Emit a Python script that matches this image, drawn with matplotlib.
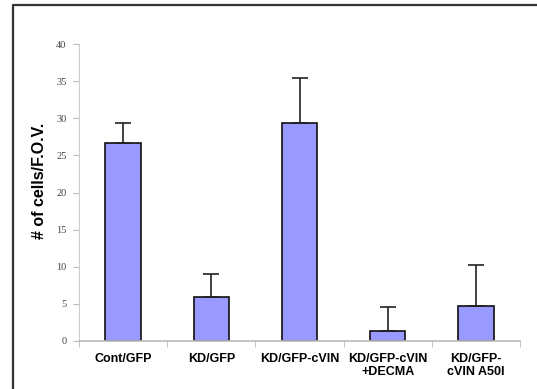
import matplotlib.pyplot as plt
from matplotlib.lines import Line2D
import numpy as np

groups = ['Cont/GFP', 'KD/GFP', 'KD/GFP-cVIN', 'KD/GFP-cVIN\n+DECMA', 'KD/GFP-\ncVIN A50I']
cells = [26.7, 5.9, 29.4, 1.3, 4.7]
err = [2.7, 3.1, 6.0, 3.3, 5.6]

fig = plt.figure(figsize=(5.37, 3.89), dpi=100)
ax = fig.add_axes([79 / 537, 1 - 341 / 389, 441 / 537, 297 / 389])

x = np.arange(len(groups))
ax.bar(x, cells, width=0.4, color='#9999ff', edgecolor='#111111', linewidth=1.2, zorder=2)
ax.errorbar(x, cells, yerr=[np.zeros(len(err)), err], fmt='none', ecolor='#222222',
            elinewidth=1.2, capsize=6, capthick=1.2, zorder=3)

ax.set_xlim(-0.5, len(groups) - 0.5)
ax.set_ylim(0, 40)
ax.set_yticks(range(0, 41, 5))
ax.set_xticks(x)
ax.set_xticklabels(groups, fontsize=9, fontweight='bold', family='Liberation Sans', linespacing=1.05)
ax.set_xticks(np.arange(-0.5, len(groups)), minor=True)
ax.tick_params(axis='x', which='major', length=0, pad=9)
ax.tick_params(axis='x', which='minor', length=4, color='#bbbbbb', direction='out')
ax.tick_params(axis='y', length=4, color='#bbbbbb', labelsize=7.5, labelcolor='#444444', pad=5)
for lab in ax.get_yticklabels():
    lab.set_family('Liberation Serif')

for s in ['top', 'right']:
    ax.spines[s].set_visible(False)
ax.spines['left'].set_color('#cccccc')
ax.spines['bottom'].set_color('#bbbbbb')
ax.spines['bottom'].set_linewidth(1.2)

fig.text(40 / 537, 1 - 181 / 389, '# of cells/F.O.V.', rotation=90, ha='center', va='center',
         fontsize=11.5, fontweight='bold', family='Liberation Sans')

# frame around the figure (left and top only visible)
fig.add_artist(Line2D([12.5 / 537, 12.5 / 537, 1], [0, 1 - 4.5 / 389, 1 - 4.5 / 389],
                      transform=fig.transFigure, color='#333333', linewidth=1.6))

fig.savefig('out.png', dpi=100)
